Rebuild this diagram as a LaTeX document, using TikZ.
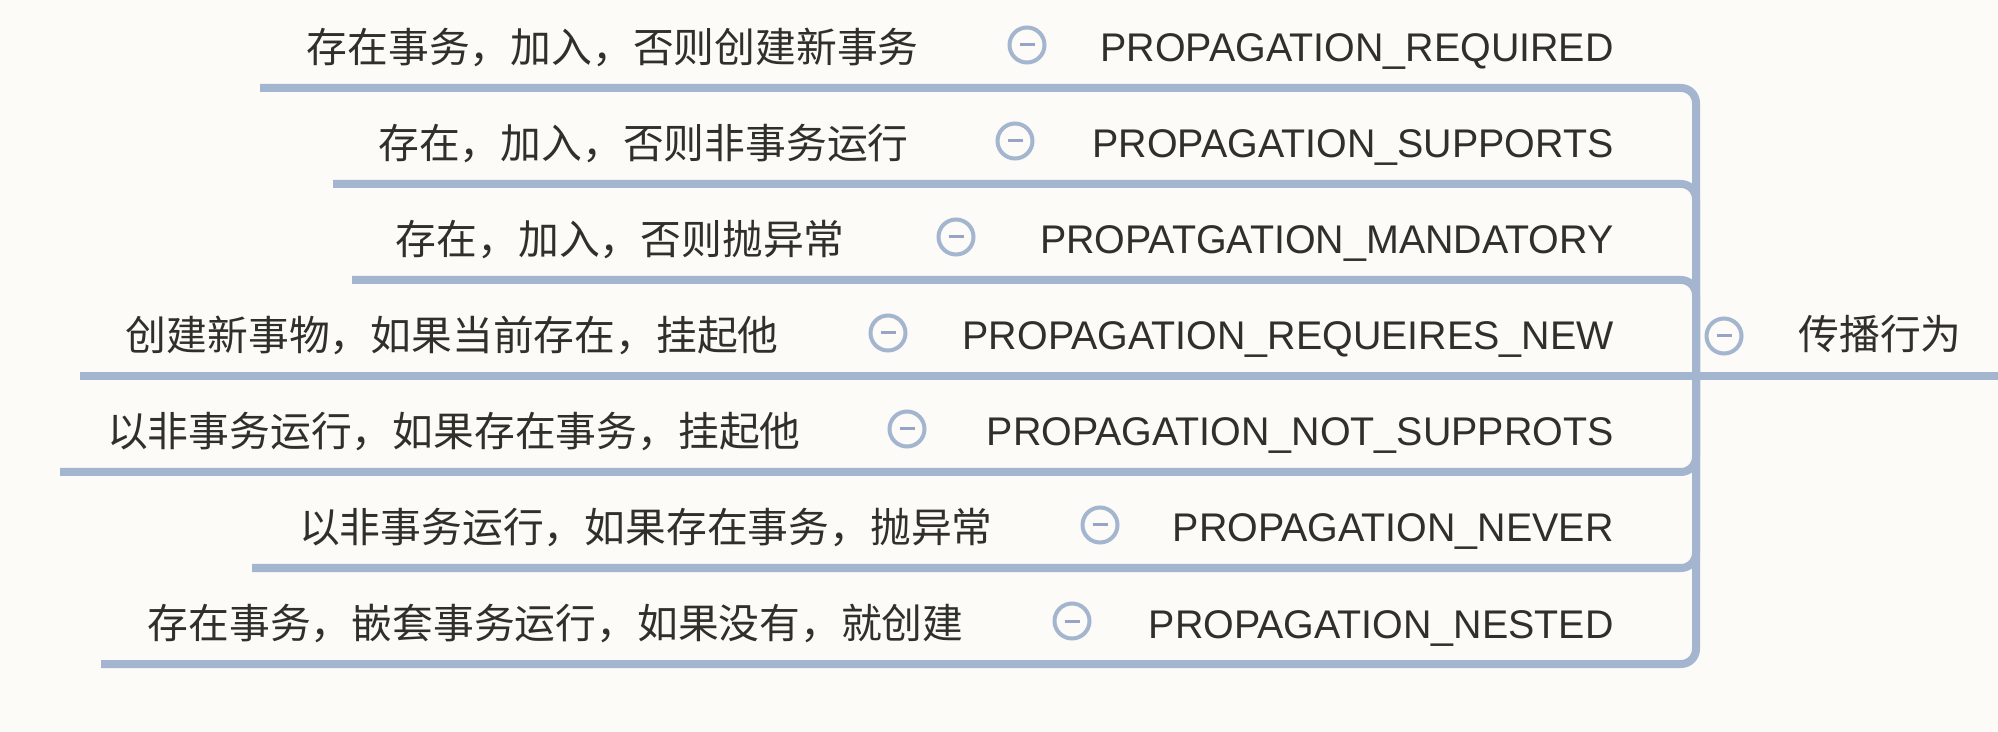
\documentclass[tikz,border=0pt]{standalone}
\usepackage{fontspec}
\setmainfont{Noto Sans CJK SC}
\newfontfamily\enfont[FakeStretch=0.985]{Liberation Sans}
\definecolor{bgcol}{HTML}{FCFBF7}
\definecolor{linecol}{HTML}{A3B5CF}
\definecolor{txtcol}{HTML}{2F2F2C}
\definecolor{minuscol}{HTML}{98A3C8}
\begin{document}
\begin{tikzpicture}[x=0.5pt,y=-0.5pt,
  branch/.style={draw=linecol, line width=4pt, rounded corners=7.5pt},
  zhtext/.style={inner sep=0pt, anchor=base east, text=txtcol, font=\fontsize{20.4pt}{24pt}\selectfont},
  entext/.style={inner sep=0pt, anchor=base east, text=txtcol, font={\enfont\fontsize{20pt}{24pt}\selectfont}},
  roottext/.style={inner sep=0pt, anchor=base west, text=txtcol, font=\fontsize{20.4pt}{24pt}\selectfont},
  fold/.style={circle, draw=linecol, line width=2pt, fill=bgcol, minimum size=17.5pt, inner sep=0pt,
    path picture={\draw[minuscol, line width=1.5pt] ([xshift=-3.75pt]path picture bounding box.center) -- ([xshift=3.75pt]path picture bounding box.center);}}
]
\fill[bgcol] (0,0) rectangle (1998,732);
\useasboundingbox (0,0) rectangle (1998,732);

\coordinate (hub) at (1696,376);
\coordinate (mainend) at (1998,376);

\foreach \i/\ly/\lx/\zx/\cx/\ztxt/\etxt in {
 1/88/260/917/1027/存在事务，加入，否则创建新事务/PROPAGATION\_REQUIRED,
 2/184/333/907/1015/存在，加入，否则非事务运行/PROPAGATION\_SUPPORTS,
 3/280/352/843/956/存在，加入，否则抛异常/PROPATGATION\_MANDATORY,
 4/376/80/777/888/创建新事物，如果当前存在，挂起他/PROPAGATION\_REQUEIRES\_NEW,
 5/472/60/799/907/以非事务运行，如果存在事务，挂起他/PROPAGATION\_NOT\_SUPPROTS,
 6/568/252/991/1100/以非事务运行，如果存在事务，抛异常/PROPAGATION\_NEVER,
 7/664/101/962/1072/存在事务，嵌套事务运行，如果没有，就创建/PROPAGATION\_NESTED}{
  \coordinate (l\i) at (\lx,\ly);
  \node[zhtext] (zh\i) at (\zx+2,\ly-25) {\ztxt};
  \node[fold] (f\i) at (\cx,\ly-43) {};
  \node[entext] (en\i) at (1614,\ly-26) {\etxt};
}

\foreach \i in {1,2,3,5,6,7} {
  \draw[branch] (hub) |- (l\i);
}
\draw[branch] (mainend) -- (l4);

\node[fold] (rootfold) at (1724,336) {};
\node[roottext] (root) at (1798,350) {传播行为};
\end{tikzpicture}
\end{document}
